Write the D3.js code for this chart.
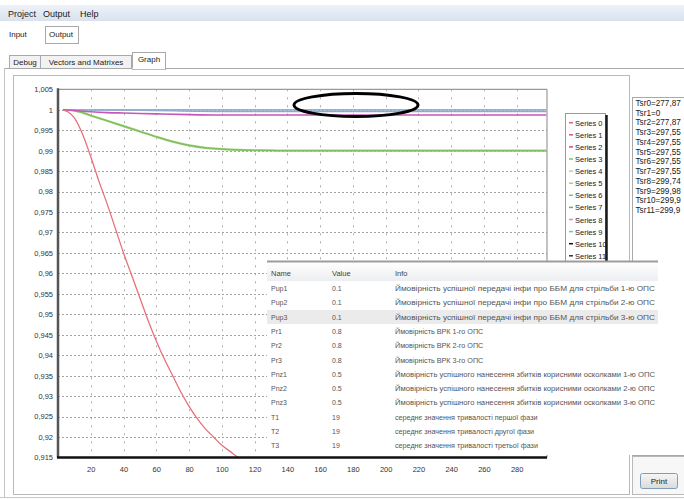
<!DOCTYPE html>
<html>
<head>
<meta charset="utf-8">
<script src="https://cdn.jsdelivr.net/npm/d3@7"></script>
<style>
  body { margin: 0; background: #ffffff; }
  svg { display: block; font-family: "Liberation Sans", Arial, sans-serif; }
</style>
</head>
<body>
<script>
// ---------- DATA ----------
const xTicks = [20, 40, 60, 80, 100, 120, 140, 160, 180, 200, 220, 240, 260, 280];
const yTicks = [1.005, 1, 0.995, 0.99, 0.985, 0.98, 0.975, 0.97, 0.965, 0.96, 0.955, 0.95, 0.945, 0.94, 0.935, 0.93, 0.925, 0.92, 0.915];
const yTickLabels = ["1,005", "1", "0,995", "0,99", "0,985", "0,98", "0,975", "0,97", "0,965", "0,96", "0,955", "0,95", "0,945", "0,94", "0,935", "0,93", "0,925", "0,92", "0,915"];

const redX = [3, 6, 10, 15, 20, 25, 30, 35, 40, 45, 50, 55, 60, 65, 70, 75, 80, 85, 90, 95, 100, 105, 110, 115, 120];
const redY = [1, 0.9995, 0.998, 0.994, 0.9885, 0.9825, 0.977, 0.971, 0.965, 0.9595, 0.954, 0.9485, 0.9435, 0.939, 0.935, 0.931, 0.9275, 0.9245, 0.922, 0.92, 0.918, 0.9165, 0.915, 0.9137, 0.9125];

const greenX = [3, 10, 15, 20, 30, 40, 50, 60, 70, 80, 90, 100, 110, 120, 130, 140, 298];
const greenY = [1, 0.9998, 0.9993, 0.9986, 0.9973, 0.996, 0.9947, 0.9934, 0.9922, 0.9913, 0.9907, 0.9904, 0.9902, 0.9901, 0.99005, 0.99, 0.99];

const magentaX = [3, 10, 20, 30, 40, 60, 80, 100, 298];
const magentaY = [1, 0.9998, 0.9995, 0.9993, 0.9992, 0.999, 0.9988, 0.9987, 0.9987];

const blueX = [3, 298];
const blueY = [1, 1];

const greyX = [3, 50, 100, 298];
const greyY = [1, 0.9999, 0.9996, 0.9996];

const legendLabels = ["Series 0", "Series 1", "Series 2", "Series 3", "Series 4", "Series 5", "Series 6", "Series 7", "Series 8", "Series 9", "Series 10", "Series 11"];
const legendColors = ["#e0606e", "#e0507a", "#d84a6a", "#86c05c", "#b4d696", "#a6d084", "#86c05c", "#6fb04a", "#e888a8", "#5fc8d8", "#111111", "#333333"];

const tsrLabels = ["Tsr0=277,87", "Tsr1=0", "Tsr2=277,87", "Tsr3=297,55", "Tsr4=297,55", "Tsr5=297,55", "Tsr6=297,55", "Tsr7=297,55", "Tsr8=299,74", "Tsr9=299,98", "Tsr10=299,9", "Tsr11=299,9"];

const paramNames = ["Pup1", "Pup2", "Pup3", "Pr1", "Pr2", "Pr3", "Pnz1", "Pnz2", "Pnz3", "T1", "T2", "T3"];
const paramValues = ["0.1", "0.1", "0.1", "0.8", "0.8", "0.8", "0.5", "0.5", "0.5", "19", "19", "19"];
const paramInfo = [
  "Ймовірність успішної передачі інфи про ББМ для стрільби 1-ю ОПС",
  "Ймовірність успішної передачі інфи про ББМ для стрільби 2-ю ОПС",
  "Ймовірність успішної передачі інфи про ББМ для стрільби 3-ю ОПС",
  "Ймовірність ВРК 1-го ОПС",
  "Ймовірність ВРК 2-го ОПС",
  "Ймовірність ВРК 3-го ОПС",
  "Ймовірність успішного нанесення збитків корисними осколками 1-ю ОПС",
  "Ймовірність успішного нанесення збитків корисними осколками 2-ю ОПС",
  "Ймовірність успішного нанесення збитків корисними осколками 3-ю ОПС",
  "середнє значення тривалості першої фази",
  "середнє значення тривалості другої фази",
  "середнє значення тривалості третьої фази"
];

// ---------- DRAW ----------
const W = 684, H = 499;
const svg = d3.select("body").append("svg").attr("width", W).attr("height", H);
const defs = svg.append("defs");

const g1 = defs.append("linearGradient").attr("id", "menuGrad").attr("x1", 0).attr("y1", 0).attr("x2", 0).attr("y2", 1);
g1.append("stop").attr("offset", "0%").attr("stop-color", "#eef2f8");
g1.append("stop").attr("offset", "100%").attr("stop-color", "#d8e2ef");
const g2 = defs.append("linearGradient").attr("id", "btnGrad").attr("x1", 0).attr("y1", 0).attr("x2", 0).attr("y2", 1);
g2.append("stop").attr("offset", "0%").attr("stop-color", "#f6f6f6");
g2.append("stop").attr("offset", "100%").attr("stop-color", "#dadada");
const g3 = defs.append("linearGradient").attr("id", "hdrGrad").attr("x1", 0).attr("y1", 0).attr("x2", 0).attr("y2", 1);
g3.append("stop").attr("offset", "0%").attr("stop-color", "#ffffff");
g3.append("stop").attr("offset", "100%").attr("stop-color", "#eceef1");

svg.append("rect").attr("width", W).attr("height", H).attr("fill", "#ffffff");

// menu bar
svg.append("rect").attr("x", 0).attr("y", 5).attr("width", W).attr("height", 16).attr("fill", "url(#menuGrad)");
[["Project", 8], ["Output", 43], ["Help", 80]].forEach(([t, x]) => {
  svg.append("text").attr("x", x).attr("y", 17).attr("font-size", 9).attr("fill", "#1a1a1a").text(t);
});

// Input / Output tabs
svg.append("text").attr("x", 9).attr("y", 37).attr("font-size", 8).attr("fill", "#222").text("Input");
svg.append("rect").attr("x", 45.5).attr("y", 26.5).attr("width", 33).attr("height", 17).attr("fill", "#fff").attr("stroke", "#a9a9a9");
svg.append("text").attr("x", 49).attr("y", 37).attr("font-size", 8).attr("fill", "#222").text("Output");

// second tab row
svg.append("line").attr("x1", 4).attr("x2", W).attr("y1", 68.5).attr("y2", 68.5).attr("stroke", "#a9a9a9");
const tabs = [["Debug", 9, 40], ["Vectors and Matrixes", 40, 131], ["Graph", 132, 165]];
tabs.forEach(([t, x0, x1], i) => {
  const sel = i === 2;
  const top = sel ? 52 : 55;
  svg.append("rect").attr("x", x0 + 0.5).attr("y", top + 0.5).attr("width", x1 - x0).attr("height", 68 - top + (sel ? 1 : 0))
    .attr("fill", sel ? "#ffffff" : "#f2f2f2").attr("stroke", "#a9a9a9");
  svg.append("text").attr("x", (x0 + x1) / 2 + 0.5).attr("y", sel ? 62 : 64.5).attr("text-anchor", "middle").attr("font-size", 8).attr("fill", "#222").text(t);
});
svg.append("line").attr("x1", 132.5).attr("x2", 165).attr("y1", 68.5).attr("y2", 68.5).attr("stroke", "#ffffff").attr("stroke-width", 1.5);

// outer content border
svg.append("line").attr("x1", 4.5).attr("x2", 4.5).attr("y1", 68).attr("y2", 497).attr("stroke", "#c4c4c4");
// chart box
svg.append("rect").attr("x", 13.5).attr("y", 75.5).attr("width", 616).attr("height", 419).attr("fill", "#ffffff").attr("stroke", "#b9b9b9");
svg.append("line").attr("x1", 0).attr("x2", W).attr("y1", 497.5).attr("y2", 497.5).attr("stroke", "#c8c8c8");

// ---------- PLOT ----------
const x = d3.scaleLinear().domain([0, 298.5]).range([58, 547]);
const y = d3.scaleLinear().domain([0.915, 1.005]).range([457.5, 89.3]);

const grid = svg.append("g");
grid.selectAll("line.h").data(yTicks.slice(1, -1)).join("line")
  .attr("x1", x(0)).attr("x2", x(298.5))
  .attr("y1", d => Math.round(y(d)) + 0.5).attr("y2", d => Math.round(y(d)) + 0.5)
  .attr("stroke", "#8a8a8a").attr("stroke-width", 0.8).attr("stroke-dasharray", "2,2");
grid.selectAll("line.v").data(xTicks).join("line")
  .attr("y1", y(1.005)).attr("y2", y(0.915))
  .attr("x1", d => Math.round(x(d)) + 0.5).attr("x2", d => Math.round(x(d)) + 0.5)
  .attr("stroke", "#9a9a9a").attr("stroke-width", 0.8).attr("stroke-dasharray", "2,6");

// frame
svg.append("line").attr("x1", x(0)).attr("x2", x(298.5)).attr("y1", y(1.005)).attr("y2", y(1.005)).attr("stroke", "#9a9a9a").attr("stroke-width", 1.2);
svg.append("line").attr("x1", x(298.5)).attr("x2", x(298.5)).attr("y1", y(1.005)).attr("y2", y(0.915)).attr("stroke", "#9a9a9a").attr("stroke-width", 1.2);

// series
defs.append("clipPath").attr("id", "plotClip").append("rect")
  .attr("x", x(0)).attr("y", y(1.005)).attr("width", x(298.5) - x(0)).attr("height", y(0.915) - y(1.005));
const lines = svg.append("g").attr("clip-path", "url(#plotClip)");
const lineGen = d3.line().x(d => x(d[0])).y(d => y(d[1])).curve(d3.curveMonotoneX);
function drawSeries(xs, ys, color, width) {
  lines.append("path").datum(xs.map((v, i) => [v, ys[i]])).attr("d", lineGen)
    .attr("fill", "none").attr("stroke", color).attr("stroke-width", width);
}
drawSeries(greenX, greenY, "#97cf72", 2.2);
drawSeries(greenX, greenY, "#7db85a", 0.9);
drawSeries(greyX, greyY, "#9aa6c8", 1.6);
drawSeries(blueX, blueY, "#86b6dc", 1.4);
drawSeries(magentaX, magentaY, "#c458b6", 1.6);
drawSeries(redX, redY, "#e8707a", 1.3);

// axes frame (left, bottom)
svg.append("line").attr("x1", x(0)).attr("x2", x(0)).attr("y1", y(1.005) - 1).attr("y2", y(0.915)).attr("stroke", "#555").attr("stroke-width", 2.5);
svg.append("line").attr("x1", x(0) - 1).attr("x2", x(298.5)).attr("y1", y(0.915)).attr("y2", y(0.915)).attr("stroke", "#111").attr("stroke-width", 2.5);

const yAxis = d3.axisLeft(y).tickValues(yTicks).tickSize(0).tickPadding(5)
  .tickFormat(d => yTickLabels[yTicks.indexOf(d)]);
const ya = svg.append("g").attr("transform", `translate(${x(0)},0)`).call(yAxis);
ya.select(".domain").remove();
ya.selectAll("text").attr("font-size", 7.5).attr("fill", "#333").attr("font-family", "Liberation Sans, Arial, sans-serif");

const xAxis = d3.axisBottom(x).tickValues(xTicks).tickSize(0).tickPadding(9).tickFormat(d3.format("d"));
const xa = svg.append("g").attr("transform", `translate(0,${y(0.915)})`).call(xAxis);
xa.select(".domain").remove();
xa.selectAll("text").attr("font-size", 7.5).attr("fill", "#333").attr("font-family", "Liberation Sans, Arial, sans-serif");

// annotation ellipse
svg.append("ellipse").attr("cx", 356).attr("cy", 105).attr("rx", 62).attr("ry", 11.5)
  .attr("fill", "none").attr("stroke", "#000").attr("stroke-width", 3);

// ---------- LEGEND ----------
const lg = svg.append("g");
lg.append("rect").attr("x", 565.5).attr("y", 113.5).attr("width", 40).attr("height", 160).attr("fill", "#fff").attr("stroke", "#9a9a9a");
lg.append("line").attr("x1", 606.5).attr("x2", 606.5).attr("y1", 115).attr("y2", 274).attr("stroke", "#1a1a1a").attr("stroke-width", 2.5);
legendLabels.forEach((t, i) => {
  const cy = 122.7 + 12.1 * i;
  lg.append("line").attr("x1", 569).attr("x2", 573).attr("y1", cy).attr("y2", cy).attr("stroke", legendColors[i]).attr("stroke-width", 1.5);
  lg.append("text").attr("x", 575).attr("y", cy + 3).attr("font-size", 7.5).attr("fill", "#222").text(t);
});

// ---------- TSR PANEL ----------
svg.append("rect").attr("x", 632.5).attr("y", 97.5).attr("width", 60).attr("height", 358).attr("fill", "#fff").attr("stroke", "#a9a9a9");
tsrLabels.forEach((t, i) => {
  svg.append("text").attr("x", 635.5).attr("y", 106 + 9.73 * i).attr("font-size", 8.2).attr("fill", "#222").text(t);
});
svg.append("rect").attr("x", 632.5).attr("y", 456.5).attr("width", 60).attr("height", 38).attr("fill", "#f7f7f7").attr("stroke", "#b9b9b9");
svg.append("rect").attr("x", 640.5).attr("y", 473.5).attr("width", 37).attr("height", 15).attr("rx", 2)
  .attr("fill", "url(#btnGrad)").attr("stroke", "#7f9db9");
svg.append("text").attr("x", 659).attr("y", 484).attr("text-anchor", "middle").attr("font-size", 8).attr("fill", "#222").text("Print");

// ---------- PARAMETER TABLE ----------
const tb = svg.append("g");
tb.append("rect").attr("x", 267).attr("y", 261).attr("width", 391).attr("height", 194).attr("fill", "#fff");
tb.append("rect").attr("x", 267).attr("y", 262).attr("width", 391).attr("height", 19).attr("fill", "url(#hdrGrad)");
tb.append("line").attr("x1", 267).attr("x2", 658).attr("y1", 261.5).attr("y2", 261.5).attr("stroke", "#9c9c9c").attr("stroke-width", 2);
tb.append("rect").attr("x", 267).attr("y", 310).attr("width", 391).attr("height", 14).attr("fill", "#ebebeb");
[["Name", 271], ["Value", 332], ["Info", 395]].forEach(([t, xx]) => {
  tb.append("text").attr("x", xx).attr("y", 276).attr("font-size", 7.5).attr("fill", "#444").text(t);
});
paramNames.forEach((n, i) => {
  const cy = 288.3 + 14.3 * i;
  tb.append("text").attr("x", 271).attr("y", cy + 2.7).attr("font-size", 7).attr("fill", "#555").text(n);
  tb.append("text").attr("x", 332).attr("y", cy + 2.7).attr("font-size", 7).attr("fill", "#555").text(paramValues[i]);
  const long = paramInfo[i].length > 50;
  tb.append("text").attr("x", 395).attr("y", cy + 2.7).attr("font-size", long ? 6.6 : 7.2).attr("fill", "#555")
    .attr("textLength", long ? 260 : null).attr("lengthAdjust", "spacingAndGlyphs").text(paramInfo[i]);
});
</script>
</body>
</html>
